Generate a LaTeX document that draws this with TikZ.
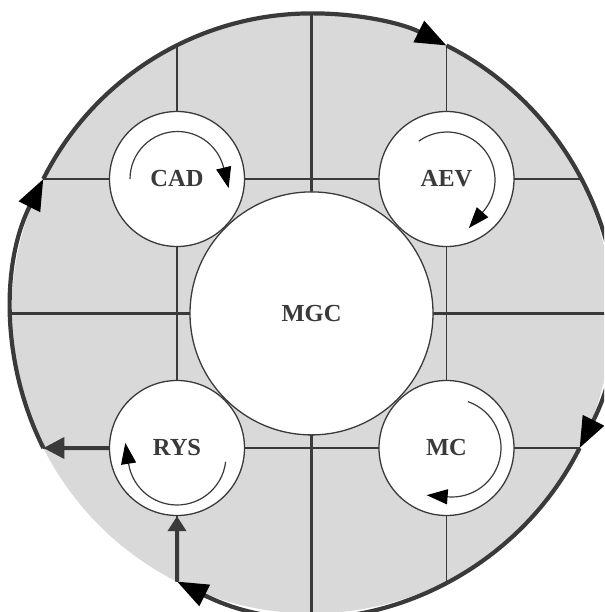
\documentclass[tikz,border=0pt]{standalone}
\usepackage{fontspec}
\setmainfont{Liberation Serif}
\usetikzlibrary{arrows.meta,calc}
\definecolor{ink}{HTML}{3A3A3A}
\definecolor{ringfill}{HTML}{D9D9D9}
\begin{document}
\begin{tikzpicture}[x=1pt,y=-1pt,
  gridline/.style={draw=ink, line width=1.3pt},
  mainline/.style={draw=ink, line width=2.7pt},
  outerarc/.style={draw=ink, line width=4.2pt, -{Triangle[length=31pt,width=23pt,color=black]}},
  flowline/.style={draw=ink, line width=4pt},
  unit/.style={circle, draw=ink, line width=1.3pt, fill=white, minimum size=135pt, inner sep=0pt,
    font=\fontsize{24.5}{28}\selectfont\bfseries, text=ink},
  hub/.style={unit, minimum size=243pt},
  spin/.style={draw=ink, line width=1.2pt, -{Triangle[length=21pt,width=15pt,color=black]}},
]
\useasboundingbox (0,0) rectangle (604,612);
\clip (0,0) rectangle (604,612);
\coordinate (C) at (311.5,313.4);
% ring fill
\fill[ringfill] (C) circle[radius=300];
% grid
\draw[gridline] (177,45.2) -- (177,581.6);
\draw[gridline] (446.5,45.5) -- (446.5,581.3);
\draw[gridline] (43.3,179) -- (579.7,179);
\draw[gridline] (43.4,448) -- (579.6,448);
\draw[mainline] (311.5,13.4) -- (311.5,613.4);
\draw[mainline] (11.5,313.4) -- (611.5,313.4);
% outer ring points
\coordinate (lb) at ($(C)+(153.34:300)$);
\coordinate (lt) at ($(C)+(206.61:300)$);
\coordinate (tr) at ($(C)+(296.74:300)$);
\coordinate (rb) at ($(C)+(26.66:300)$);
\coordinate (bl) at ($(C)+(116.63:300)$);
\draw[outerarc] (lb) arc[start angle=153.34, end angle=206.61, radius=300];
\draw[outerarc] (lt) arc[start angle=206.61, end angle=296.74, radius=300];
\draw[outerarc] (tr) arc[start angle=296.74, end angle=386.66, radius=300];
\draw[outerarc] (rb) arc[start angle=26.66, end angle=116.63, radius=300];
% circles
\node[hub] (mgc) at (C) {MGC};
\node[unit] (cad) at (177,179) {CAD};
\node[unit] (aev) at (446.5,179) {AEV};
\node[unit] (rys) at (177,448) {RYS};
\node[unit] (mc) at (446.5,448) {MC};
% flow through RYS
\draw[flowline, -{Triangle[length=15pt,width=18pt]}] (bl) -- (rys.south);
\draw[flowline, -{Triangle[length=21pt,width=21pt]}] (rys.west) -- (lb);
% inner cycles
\draw[spin] ($(177.5,179)+(180:47.5)$) arc[start angle=180, end angle=346.3, radius=47.5]
  -- ++({-sin(346.3)*21},{cos(346.3)*21});
\draw[spin] ($(447,180)+(234:48)$) arc[start angle=234, end angle=401, radius=48]
  -- ++({-sin(41)*22},{cos(41)*22});
\draw[spin] ($(452,448)+(289:49)$) arc[start angle=289, end angle=454.5, radius=49]
  -- ++({-sin(94.5)*21.6},{cos(94.5)*21.6});
\draw[spin] ($(177,456)+(6.8:49)$) arc[start angle=6.8, end angle=171, radius=49]
  -- ++({-sin(171)*21},{cos(171)*21});
\end{tikzpicture}
\end{document}
